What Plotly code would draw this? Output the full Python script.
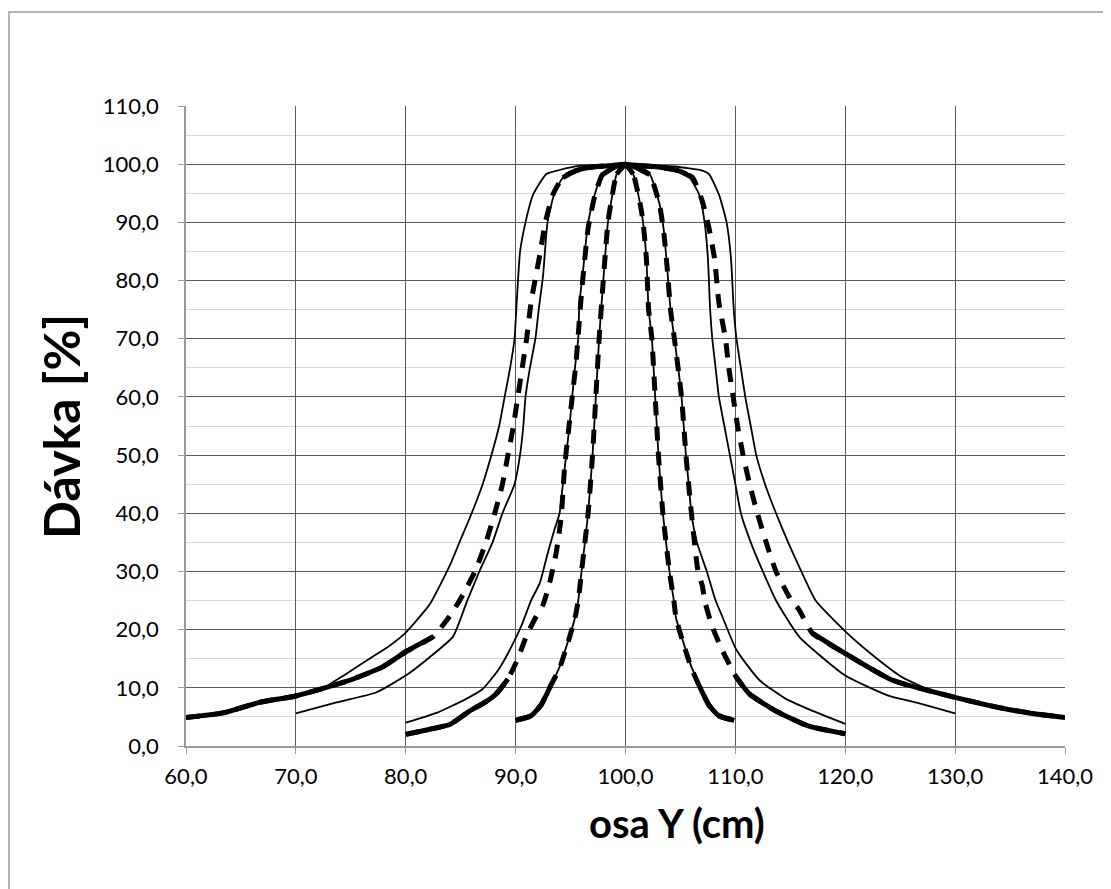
import plotly.graph_objects as go
import numpy as np

# ---------------- data ----------------
# wide field: outer thin solid
wide_out_x = [60, 63.4, 66.7, 70, 72.5, 74.5, 76.7, 78.5, 80, 82.2, 84, 85, 86.0, 87.0, 87.8, 88.5, 89.0, 89.5, 89.9,
              90.06, 90.4, 90.9, 91.6, 92.8, 94.0, 95.8, 98, 100, 102, 104.5, 107.0, 107.6, 108.5, 109.2, 109.6,
              109.85, 110.1, 110.5, 110.9, 111.4, 111.9, 112.7, 113.7, 114.8, 116.0, 117.3, 120, 122.5, 125.2,
              127.9, 130, 134, 137, 140]
wide_out_y = [5.0, 5.9, 7.6, 8.8, 10.0, 12.3, 15.0, 17.2, 19.5, 24.4, 31, 35.5, 40, 45, 50, 55, 60, 65, 70,
              75, 84.9, 90, 94.8, 98.3, 99.0, 99.7, 99.8, 100, 99.8, 99.6, 98.9, 98.3, 94.8, 90, 83.8,
              75.1, 70, 65, 60, 55, 50, 45, 40, 35, 30, 25, 19.7, 15.6, 11.8,
              9.5, 8.5, 6.7, 5.8, 5.0]

# wide field: thick dashed
wide_dash_x = [60, 63.4, 66.7, 70, 74.9, 77.9, 80, 82.5, 84, 84.9, 86.3, 87.3, 88.1, 88.8, 89.3, 89.8, 90.2, 90.6,
               91.0, 91.4, 92.2, 92.7, 93.4, 94.3, 95.5, 97.0, 100, 103, 104.8, 106.1, 107.0, 107.6, 108.1, 108.5,
               109.1, 109.4, 109.8, 110.2, 110.7, 111.3, 112.0, 112.8, 113.7, 115.1, 115.8, 117.0, 120, 124.3,
               129.9, 134, 137, 140]
wide_dash_y = [4.9, 5.7, 7.5, 8.6, 11.3, 13.6, 16.2, 18.8, 22.3, 25, 30, 35, 40, 45, 50, 55, 60, 65,
               70, 76.2, 84.4, 90, 94.8, 97.7, 98.9, 99.5, 99.9, 99.5, 98.9, 97.7, 93.6, 89, 83.8, 76.2,
               70, 65, 60, 55, 50, 45, 40, 35, 30, 25, 23.4, 19.4, 15.9, 11.3,
               8.4, 6.6, 5.6, 4.9]

# wide field: inner thin solid
wide_in_x = [70, 73.7, 77.3, 80, 82.2, 84.3, 85.6, 86.7, 87.9, 88.8, 89.9, 90.4, 90.7, 90.9, 91.3, 91.8, 92.1,
             92.5, 92.9, 93.5, 94.3, 95.5, 97, 100, 103, 104.5, 105.5, 106.7, 107.2, 107.5, 107.7, 107.9, 108.2,
             108.5, 109.0, 109.5, 110.0, 110.5, 111.4, 112.5, 113.7, 115.8, 120, 124, 126.4, 130]
wide_in_y = [5.6, 7.5, 9.2, 12.1, 15.3, 18.8, 25, 30, 35, 40, 45, 50, 55, 60, 65, 70, 75,
             80.9, 90, 94.8, 97.7, 98.9, 99.5, 100, 99.5, 99.2, 98.6, 94.8, 90, 83.8, 75.1, 70, 65,
             60, 55, 50, 45, 40, 35, 30, 25, 18.8, 12.1, 8.6, 7.5, 5.6]

# medium field: thin solid
med_sol_x = [80, 82.8, 85.5, 87.0, 88.4, 89.6, 90.6, 91.4, 92.2, 92.9, 93.5, 94.0, 94.3, 94.6, 94.9, 95.15, 95.4,
             95.7, 95.8, 96.1, 96.6, 97.2, 97.9, 99.2, 100, 100.9, 102.2, 103.1, 103.5, 103.8, 104.1, 104.45,
             104.8, 105.1, 105.3, 105.5, 105.75, 106.0, 106.5, 107.4, 108.2, 108.8, 110.1, 112.2, 114.6, 116.7, 120]
med_sol_y = [4.0, 5.7, 8.1, 9.8, 13.0, 17, 21, 25, 28, 33, 37, 40, 45, 50, 55, 60, 65,
             70, 76, 81, 90, 94.8, 98.3, 99.8, 100, 99.6, 98.3, 93.1, 88.4, 82, 75, 70,
             65, 60, 55, 50, 45, 40, 35, 30, 25, 22.3, 16.5, 11.3, 8.1, 6.3, 3.8]

# medium field: thick dashed
med_dash_x = [80, 82, 84, 85.8, 87.2, 88.2, 89.3, 90.2, 91.0, 91.8, 92.5, 93.1, 93.7, 94.15, 94.45, 94.8, 95.15,
              95.5, 95.7, 96.0, 96.6, 97.2, 97.9, 99.2, 100, 100.9, 102.2, 103.1, 103.5, 103.8, 104.1, 104.45,
              105.1, 105.5, 106.0, 106.6, 107.0, 107.2, 107.9, 108.8, 110.1, 111.3, 113.7, 116.7, 120]
med_dash_y = [2.0, 2.8, 3.7, 6.0, 7.5, 8.9, 11.5, 15, 19, 22, 24.3, 28.1, 33.3, 39.4, 47.8, 54, 60,
              66, 70.7, 78, 89, 94.5, 98.2, 99.7, 100, 99.5, 98.2, 93, 88, 82, 75, 70,
              60, 50, 40, 30, 27.5, 25, 20.5, 16.5, 11.8, 8.9, 6.0, 3.4, 2.1]

# narrow field: thin solid
nar_sol_x = [90.2, 91.5, 92.4, 93.3, 94.0, 94.8, 95.4, 95.7, 96.0, 96.6, 97.0, 97.3, 97.6, 97.9, 98.4, 98.7, 99.2,
             100, 100.7, 101.4, 101.6, 101.9, 102.1, 102.4, 102.7, 103.0, 103.4, 104.0, 104.4, 104.6, 105.2,
             106.0, 106.7, 107.6, 108.5, 109.8]
nar_sol_y = [4.6, 5.4, 7.2, 10.7, 13.6, 18.2, 22, 25, 30, 40, 50, 60, 70, 78, 90, 93.6, 98.3,
             100, 98.3, 92.5, 90, 83.8, 75.1, 70, 60, 50, 40, 30, 25, 22, 18.2,
             13.6, 10.7, 7.2, 5.4, 4.6]

# narrow field: thick dashed
nar_dash_x = [90.0, 91.4, 92.3, 93.2, 94.0, 94.8, 95.4, 95.7, 96.0, 96.6, 97.0, 97.3, 97.6, 97.9, 98.4, 98.7, 99.2,
              100, 100.7, 101.4, 101.6, 101.9, 102.1, 102.4, 102.7, 103.0, 103.4, 104.0, 104.4, 104.6, 105.2,
              106.0, 106.7, 107.6, 108.5, 109.9]
nar_dash_y = [4.4, 5.2, 7.0, 10.4, 13.4, 18.0, 22, 25, 30, 40, 50, 60, 70, 78, 90, 93.6, 98.3,
              99.9, 98.3, 92.5, 90, 83.8, 75.1, 70, 60, 50, 40, 30, 25, 22, 18.0,
              13.4, 10.4, 7.0, 5.2, 4.4]

x_ticks = [60, 70, 80, 90, 100, 110, 120, 130, 140]
y_ticks = [0, 10, 20, 30, 40, 50, 60, 70, 80, 90, 100, 110]

# ---------------- figure ----------------
fig = go.Figure()
BLACK = "#000000"

def thin(x, y):
    fig.add_trace(go.Scatter(x=x, y=y, mode="lines",
                             line=dict(color=BLACK, width=1.8, shape="spline", smoothing=0.5),
                             showlegend=False, hoverinfo="skip"))

def dashed(x, y, lo, hi):
    fig.add_trace(go.Scatter(x=x, y=y, mode="lines",
                             line=dict(color=BLACK, width=5, dash="14px,11px", shape="spline", smoothing=0.5),
                             showlegend=False, hoverinfo="skip"))
    ym = [v if (v <= lo or v >= hi) else None for v in y]
    fig.add_trace(go.Scatter(x=x, y=ym, mode="lines", connectgaps=False,
                             line=dict(color=BLACK, width=5, shape="spline", smoothing=0.5),
                             showlegend=False, hoverinfo="skip"))

thin(wide_out_x, wide_out_y)
thin(wide_in_x, wide_in_y)
dashed(wide_dash_x, wide_dash_y, 20, 97)
thin(med_sol_x, med_sol_y)
dashed(med_dash_x, med_dash_y, 13, 97.5)
thin(nar_sol_x, nar_sol_y)
dashed(nar_dash_x, nar_dash_y, 12, 97.5)

# page has an 8px body margin: figure is placed at (8, 8)
OFF = 8
W, H = 1111 - OFF, 889 - OFF
L, R, T, B = 186 - OFF, 46, 106 - OFF, 889 - 738 - OFF
pw, ph = W - L - R, H - T - B

def px2paper_x(px):
    return (px - OFF - L) / pw

def px2paper_y(py):
    return (H - B - (py - OFF)) / ph

tickfont = dict(family="Lato, Carlito, Calibri, sans-serif", size=22, color="#000000")
titlefont_family = "Lato, Carlito, Calibri, sans-serif"

fig.update_layout(
    width=W, height=H,
    margin=dict(l=L, r=R, t=T, b=B),
    paper_bgcolor="white", plot_bgcolor="white",
    separators=", ",
    xaxis=dict(range=[60, 140], tickvals=x_ticks, tickformat=".1f",
               showgrid=True, gridcolor="#5a5a5a", gridwidth=1,
               zeroline=False, showline=True, linecolor="#9a9a9a", linewidth=1.5,
               ticks="outside", ticklen=6, tickcolor="#9a9a9a", tickwidth=1,
               ticklabelstandoff=4, tickfont=tickfont),
    yaxis=dict(range=[0, 110], tickvals=y_ticks, tickformat=".1f",
               showgrid=True, gridcolor="#5a5a5a", gridwidth=1,
               minor=dict(dtick=5, showgrid=True, gridcolor="#d9d9d9", gridwidth=1),
               zeroline=False, showline=True, linecolor="#9a9a9a", linewidth=1.5,
               ticks="outside", ticklen=6, tickcolor="#9a9a9a", tickwidth=1,
               ticklabelstandoff=15, tickfont=tickfont),
    annotations=[
        dict(text="<b>Dávka [%]</b>", xref="paper", yref="paper",
             x=px2paper_x(61), y=px2paper_y(427), xanchor="center", yanchor="middle",
             textangle=-90, showarrow=False,
             font=dict(family=titlefont_family, size=50, color="#000000")),
        dict(text="<b>osa Y (cm)</b>", xref="paper", yref="paper",
             x=px2paper_x(677), y=px2paper_y(823), xanchor="center", yanchor="middle",
             showarrow=False,
             font=dict(family=titlefont_family, size=40, color="#000000")),
    ],
    shapes=[
        dict(type="rect", xref="paper", yref="paper",
             x0=px2paper_x(9), x1=px2paper_x(1125), y0=px2paper_y(900), y1=px2paper_y(12),
             line=dict(color="#9a9a9a", width=1.5), fillcolor="rgba(0,0,0,0)", layer="below"),
    ],
)

fig.write_html("out.html")
